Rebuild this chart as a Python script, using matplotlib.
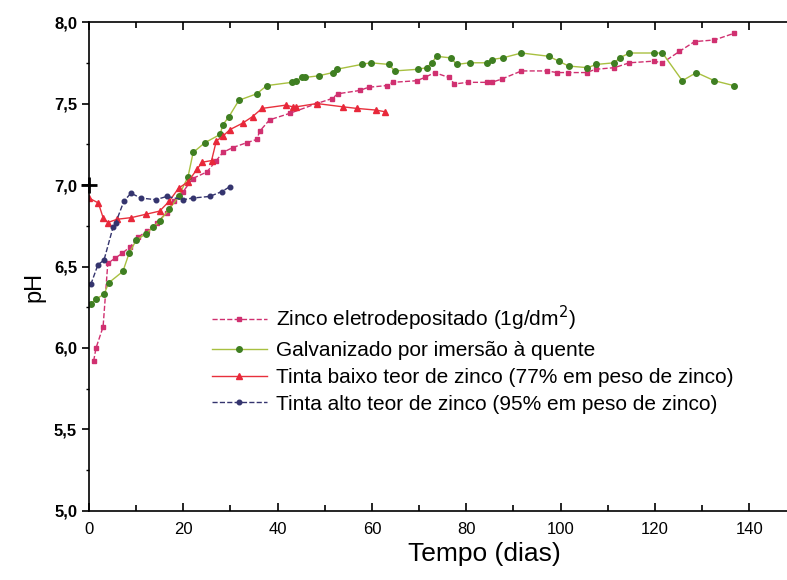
import matplotlib.pyplot as plt
from matplotlib.ticker import MultipleLocator, FuncFormatter

plt.rcParams['font.family'] = ['Liberation Sans', 'DejaVu Sans']

# Zinco eletrodepositado (1g/dm2)
zinco_dias = [1, 1.5, 3, 4, 5.5, 7, 8.7, 10.5, 12.3, 14.4, 16.5, 18, 20, 22, 25, 27,
              28.4, 30.5, 33.5, 35.6, 36.2, 38.3, 42.6, 48.3, 51.5, 52.8, 57.4, 59.3,
              63.1, 64.4, 69.5, 71.2, 73.3, 76.3, 77.5, 80.3, 84.3, 85.4, 87.5, 91.7,
              97.2, 99.2, 101.5, 105.5, 107.4, 111.4, 114.6, 119.7, 121.6, 125.2,
              128.4, 132.6, 136.7]
zinco_ph = [5.92, 6.0, 6.13, 6.52, 6.55, 6.58, 6.62, 6.68, 6.72, 6.77, 6.83, 6.9, 6.96,
            7.04, 7.08, 7.15, 7.2, 7.23, 7.26, 7.28, 7.33, 7.40, 7.44, 7.50, 7.53, 7.56,
            7.58, 7.60, 7.61, 7.63, 7.64, 7.66, 7.69, 7.66, 7.62, 7.63, 7.63, 7.63, 7.65,
            7.70, 7.70, 7.69, 7.69, 7.69, 7.71, 7.72, 7.75, 7.76, 7.75, 7.82, 7.88, 7.89,
            7.93]

# Galvanizado por imersao a quente
galv_dias = [0.4, 1.5, 3.2, 4.2, 7.2, 8.5, 10, 12, 13.6, 15, 17, 19, 21, 22.1, 24.6,
             27.8, 28.4, 29.7, 31.8, 35.6, 37.7, 43, 44, 45.1, 45.8, 48.7, 51.7, 52.5,
             57.8, 59.7, 63.6, 64.8, 69.7, 71.6, 72.7, 73.7, 76.7, 78, 80.7, 84.5, 85.4,
             87.7, 91.7, 97.5, 99.6, 101.7, 105.7, 107.6, 111.4, 112.5, 114.6, 119.7,
             121.6, 125.8, 128.8, 132.6, 136.7]
galv_ph = [6.27, 6.30, 6.33, 6.40, 6.47, 6.58, 6.66, 6.70, 6.74, 6.78, 6.85, 6.93, 7.05,
           7.20, 7.26, 7.31, 7.37, 7.42, 7.52, 7.56, 7.61, 7.63, 7.64, 7.66, 7.66, 7.67,
           7.69, 7.71, 7.74, 7.75, 7.74, 7.70, 7.71, 7.72, 7.75, 7.79, 7.78, 7.74, 7.75,
           7.75, 7.77, 7.78, 7.81, 7.79, 7.76, 7.73, 7.72, 7.74, 7.75, 7.78, 7.81, 7.81,
           7.81, 7.64, 7.69, 7.64, 7.61]

# Tinta baixo teor de zinco (77%)
baixo_dias = [0, 2, 3, 4, 6, 9, 12, 15, 17, 19, 21, 23, 24, 26, 27, 28.4, 29.9, 32.6,
              34.7, 36.7, 41.7, 43.2, 44, 48.3, 53.8, 56.8, 60.8, 62.7]
baixo_ph = [6.92, 6.89, 6.80, 6.77, 6.79, 6.80, 6.82, 6.84, 6.90, 6.98, 7.02, 7.10, 7.14,
            7.15, 7.27, 7.30, 7.34, 7.38, 7.42, 7.47, 7.49, 7.48, 7.48, 7.50, 7.48, 7.47,
            7.46, 7.45]

# Tinta alto teor de zinco (95%)
alto_dias = [0.4, 1.9, 3.2, 5.1, 5.7, 7.4, 8.9, 11, 14.2, 16.5, 20, 22, 25.6, 28.2, 29.9]
alto_ph = [6.39, 6.51, 6.54, 6.74, 6.77, 6.90, 6.95, 6.92, 6.91, 6.93, 6.91, 6.92, 6.93,
           6.96, 6.99]

labels = ['Zinco eletrodepositado (1g/dm$^2$)',
          'Galvanizado por imersão à quente',
          'Tinta baixo teor de zinco (77% em peso de zinco)',
          'Tinta alto teor de zinco (95% em peso de zinco)']

fig = plt.figure(figsize=(7.87, 5.8), dpi=100)
ax = fig.add_axes([0.113, 0.119, 0.887, 0.843])

ax.plot(zinco_dias, zinco_ph, color='#d03070', ls='--', lw=1, marker='s', ms=2.8,
        mfc='#d03070', mec='#d03070', label=labels[0])
ax.plot(galv_dias, galv_ph, color='#a8c040', ls='-', lw=1, marker='o', ms=4,
        mfc='#3f7f22', mec='#3f7f22', label=labels[1])
ax.plot(baixo_dias, baixo_ph, color='#e8303c', ls='-', lw=1, marker='^', ms=4.8,
        mfc='#e8283a', mec='#e8283a', label=labels[2])
ax.plot(alto_dias, alto_ph, color='#34346e', ls='--', lw=1, marker='o', ms=3.3,
        mfc='#34346e', mec='#34346e', label=labels[3])
ax.plot([0], [7.0], marker='+', color='black', ms=12, mew=2, clip_on=False)

ax.set_xlim(0, 148)
ax.set_ylim(5.0, 8.0)

ax.xaxis.set_major_locator(MultipleLocator(20))
ax.xaxis.set_minor_locator(MultipleLocator(10))
ax.yaxis.set_major_locator(MultipleLocator(0.5))
ax.yaxis.set_minor_locator(MultipleLocator(0.25))
ax.yaxis.set_major_formatter(FuncFormatter(lambda v, p: f'{v:.1f}'.replace('.', ',')))

ax.tick_params(axis='x', which='both', direction='in', top=True, labelsize=12, pad=8)
ax.tick_params(axis='x', which='major', length=6, width=1.2)
ax.tick_params(axis='x', which='minor', length=4, width=1.2)
ax.tick_params(axis='y', which='both', direction='out', labelsize=12)
ax.tick_params(axis='y', which='major', length=5, width=1.2)
ax.tick_params(axis='y', which='minor', length=2, width=1)
for lab in ax.get_yticklabels():
    lab.set_fontweight('bold')

ax.spines['right'].set_visible(False)
for s in ['left', 'bottom', 'top']:
    ax.spines[s].set_linewidth(1.2)

ax.set_xlabel('Tempo (dias)', fontsize=19)
ax.xaxis.set_label_coords(0.567, -0.063)
ax.set_ylabel('pH', fontsize=17)
ax.yaxis.set_label_coords(-0.063, 0.458)

ax.legend(loc='upper left', bbox_to_anchor=(0.150, 0.462), frameon=False,
          fontsize=15, handlelength=2.6, handletextpad=0.43, labelspacing=0.38)

fig.savefig('out.png', dpi=100)
